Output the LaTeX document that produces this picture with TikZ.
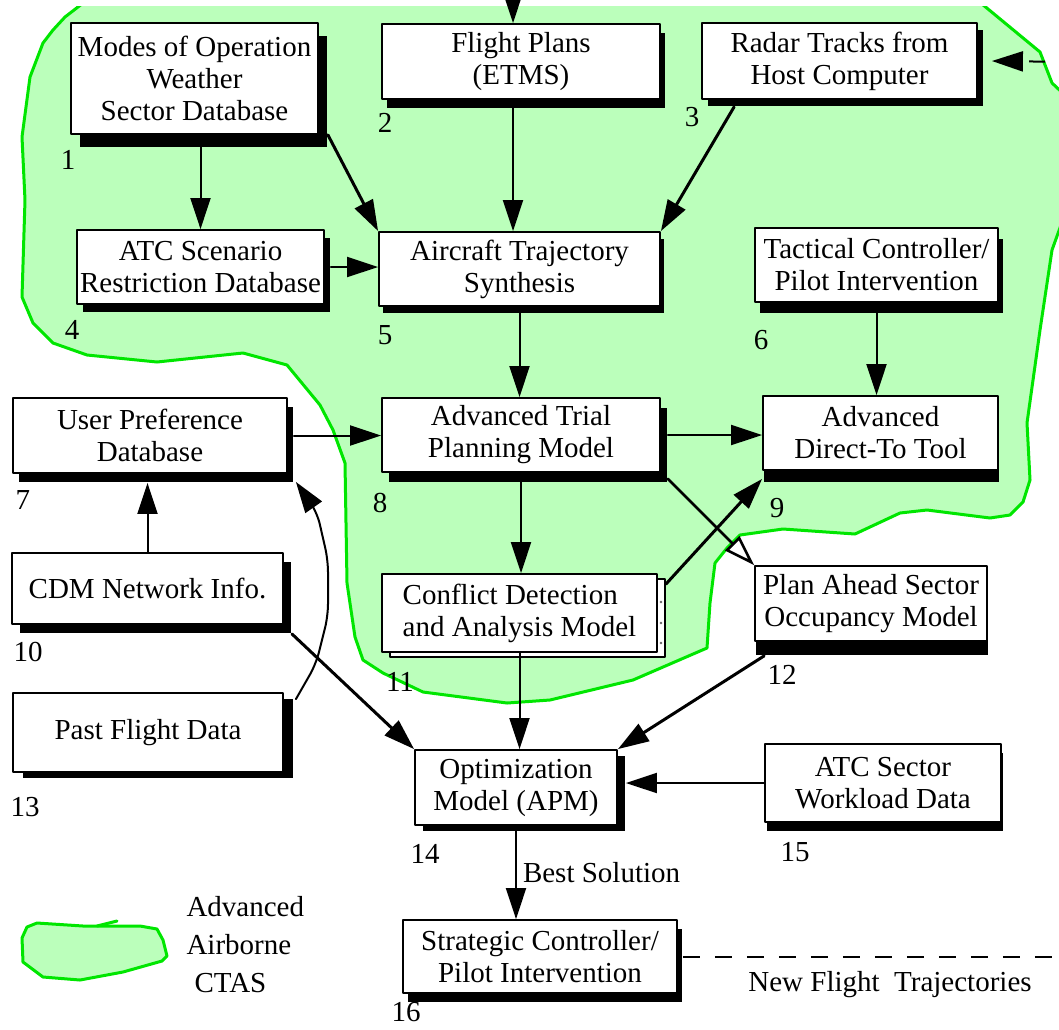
\documentclass[tikz,border=0pt]{standalone}
\usepackage{fontspec}
\setmainfont{Liberation Serif}
\usetikzlibrary{calc,arrows.meta,shadows,positioning}
\definecolor{ctasfill}{RGB}{187,255,187}
\definecolor{ctasline}{RGB}{0,230,0}
\newcommand{\diagfont}{\fontsize{29}{32}\selectfont}
\tikzset{
  box/.style={draw,fill=white,line width=1.8pt,align=center,inner sep=0pt,font=\diagfont},
  shad/.style 2 args={drop shadow={fill=black,opacity=1,shadow xshift=#1pt,shadow yshift=-#2pt}},
  arr/.style={line width=2pt,-{Triangle[length=31pt,width=20pt]}},
  tarr/.style={line width=3pt,-{Triangle[length=31pt,width=20pt]}},
  oarr/.style={line width=2.6pt,-{Triangle[length=31pt,width=20pt,fill=white]}},
  num/.style={font=\diagfont,inner sep=0pt},
  ctas/.style={fill=ctasfill,draw=ctasline,line width=3pt,line join=round}
}
\begin{document}
\begin{tikzpicture}[line cap=round,line join=round,x=1pt,y=-1pt]
\useasboundingbox (0,0) rectangle (1059,1029);
\begin{scope}
\clip (0,6) rectangle (1059,1029);
\filldraw[ctas] (100,-10) -- (65,17) -- (53,30) -- (43,43) -- (30,77) -- (22,137) -- (25,200) -- (22,297) -- (33,323) -- (53,343) -- (87,355) -- (157,362) -- (243,353) -- (287,365) -- (320,405) -- (333,430) -- (345,463) -- (347,583) -- (355,637) -- (363,660) -- (383,673) -- (423,692) -- (507,703) -- (550,700) -- (633,680) -- (707,648) -- (710,603) -- (715,563) -- (727,548) -- (740,535) -- (783,529) -- (855,534) -- (900,513) -- (927,510) -- (990,518) -- (1010,515) -- (1023,502) -- (1030,480) -- (1027,423) -- (1040,330) -- (1052,250) -- (1070,200) -- (1070,100) -- (1052,83) -- (1040,52) -- (965,-10) -- cycle;
\end{scope}
\filldraw[ctas] (22,938) -- (27,927) -- (37,923) -- (83,926) -- (140,926) -- (157,929) -- (163,940) -- (167,956) -- (162,961) -- (123,972) -- (80,980) -- (43,977) -- (23,962) -- cycle;
\draw[ctasline,line width=3pt] (97,926) -- (117,921);

\node[box,shad={9}{13},minimum width=247pt,minimum height=111pt] (modes) at (194.5,78.5) {Modes of Operation\\Weather\\Sector Database};
\node[box,shad={5}{9},minimum width=278pt,minimum height=75pt] (plans) at (521,61.5) {Flight Plans\\(ETMS)};
\node[box,shad={6}{7},minimum width=275pt,minimum height=76pt] (radar) at (839.5,61) {Radar Tracks from\\Host Computer};
\node[box,shad={6}{8},minimum width=247pt,minimum height=74pt] (scen) at (200.5,267) {ATC Scenario\\Restriction Database};
\node[box,shad={4}{7},minimum width=281pt,minimum height=74pt] (synth) at (519.5,269) {Aircraft Trajectory\\Synthesis};
\node[box,shad={5}{11},minimum width=243pt,minimum height=74pt] (tactical) at (876.5,265) {Tactical Controller/\\Pilot Intervention};
\node[box,shad={6}{9},minimum width=274pt,minimum height=75pt] (userpref) at (150,435.5) {User Preference\\Database};
\node[box,shad={7}{10},minimum width=278pt,minimum height=74pt] (trial) at (521,435) {Advanced Trial\\Planning Model};
\node[box,shad={1}{12},minimum width=235pt,minimum height=74pt] (directto) at (880.5,433) {Advanced\\Direct-To Tool};
\node[box,shad={8}{9},minimum width=271pt,minimum height=71pt] (cdm) at (147.5,588.5) {CDM Network Info.};
\node[box,minimum width=275pt,minimum height=78pt] (conflictback) at (527.5,618) {};
\node[box,align=left,minimum width=275pt,minimum height=78pt] (conflict) at (519.5,613) {Conflict Detection\\and Analysis Model};
\node[box,shad={1}{14},minimum width=232pt,minimum height=75pt] (occupancy) at (871,603.5) {Plan Ahead Sector\\Occupancy Model};
\node[box,shad={10}{6},minimum width=270pt,minimum height=79pt] (pastdata) at (148,732.5) {Past Flight Data};
\node[box,shad={8}{6},minimum width=202pt,minimum height=75pt] (optim) at (516,787.5) {Optimization\\Model (APM)};
\node[box,shad={2}{9},minimum width=236pt,minimum height=78pt] (workload) at (883,783) {ATC Sector\\Workload Data};
\node[box,shad={5}{9},minimum width=274pt,minimum height=73pt] (strategic) at (540,956.5) {Strategic Controller/\\Pilot Intervention};
\foreach \y in {602,623,643}
\fill[black!60] (661,\y) circle (1.3pt);

\foreach \x/\y [count=\i] in {68/160,385/123,692/117,72/330,385/335,761/340,23/500,380/503,777/508,28/652,400/682,782/675,25/807,425/854,795/852,406/1012}
\node[num] (num\i) at (\x,\y) {\i};

\coordinate (etmsin) at (513,-10);
\coordinate (hostin) at (1075,62);
\coordinate (newtraj) at (1075,960);
\draw[arr] (etmsin) -- (etmsin |- plans.north);
\draw[arr,dash pattern=on 16pt off 14pt,line cap=butt] (hostin) -- ([xshift=14pt]radar.east);
\draw[arr] (modes.south -| scen.north) -- (scen.north);
\draw[tarr] ([xshift=9pt]modes.south east) -- (synth.north west);
\draw[arr] ([xshift=-8pt]plans.south) -- ([xshift=-8pt]plans.south |- synth.north);
\draw[tarr] ($(radar.south west)+(33,7)$) -- (synth.north east);
\draw[arr] ([xshift=6pt]scen.east) -- (scen.east -| synth.west);
\draw[arr] (synth.south) -- (synth.south |- trial.north);
\draw[arr] (tactical.south) -- (tactical.south |- directto.north);
\draw[arr] ([xshift=6pt]userpref.east) -- (userpref.east -| trial.west);
\draw[arr] ([xshift=7pt]trial.east) -- (trial.east -| directto.west);
\draw[arr] (trial.south) -- (trial.south |- conflict.north);
\draw[oarr] ($(trial.south east)+(7,6)$) -- (occupancy.north west);
\draw[tarr] ($(conflictback.north east)+(0,6)$) -- ([yshift=-8pt]directto.south west);
\draw[arr] (cdm.north) -- ([yshift=-9pt]cdm.north |- userpref.south);
\draw[arr,rounded corners=12pt] ($(pastdata.north east)+(12,7)$) -- (316,664) -- (328,616) -- (328,560) -- (317,512) -- ($(userpref.south east)+(8,8)$);
\draw[tarr] ($(cdm.south east)+(8,9)$) -- (optim.north west);
\draw[arr] (conflict.south) -- (conflict.south |- optim.north);
\draw[tarr] ($(occupancy.south west)+(10,14)$) -- (optim.north east);
\draw[arr] (workload.west) -- ([xshift=8pt]workload.west -| optim.east);
\draw[arr] (optim.south) -- (optim.south |- strategic.north) node[midway,right,font=\diagfont,inner sep=6pt] (best) {Best Solution};
\draw[line width=2pt,dash pattern=on 17pt off 15pt,line cap=butt] ([xshift=5pt]strategic.east) -- (newtraj |- strategic.east);
\node[font=\diagfont] (newlbl) at (890,985) {New Flight\ \ Trajectories};
\node[anchor=west,align=left,font=\fontsize{29}{38}\selectfont] (legend) at (183,945) {Advanced\\Airborne\\\hspace{8pt}CTAS};
\end{tikzpicture}
\end{document}
